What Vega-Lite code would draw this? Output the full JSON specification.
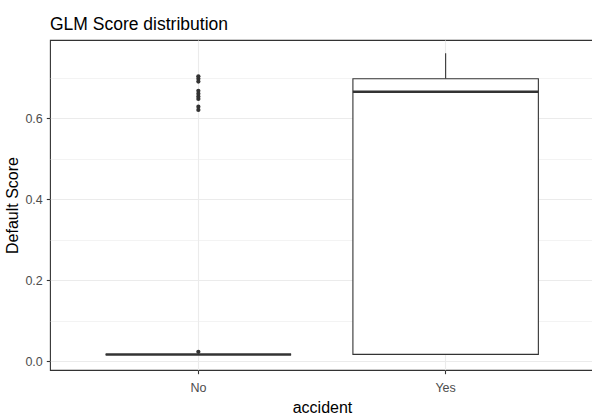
{
  "$schema": "https://vega.github.io/schema/vega-lite/v6.json",
  "autosize": {"type": "none"},
  "width": 544,
  "height": 330,
  "padding": {"left": 50, "top": 40, "right": 0, "bottom": 47},
  "background": "white",
  "title": {
    "text": "GLM Score distribution",
    "anchor": "start",
    "frame": "group",
    "font": "Liberation Sans",
    "fontSize": 17.5,
    "fontWeight": "normal",
    "color": "#000000",
    "offset": 7
  },
  "config": {
    "view": {"stroke": "#333333", "strokeWidth": 1.1},
    "axis": {
      "labelFont": "Liberation Sans",
      "titleFont": "Liberation Sans",
      "labelColor": "#4D4D4D",
      "titleColor": "#000000",
      "labelFontSize": 12.5,
      "titleFontSize": 16,
      "titleFontWeight": "normal",
      "tickColor": "#333333",
      "tickSize": 3.7,
      "tickWidth": 1.1,
      "domain": false,
      "gridColor": "#EBEBEB"
    }
  },
  "datasets": {
    "boxes": [
      {"accident": "No", "lower": 0.016, "q1": 0.016, "median": 0.016, "q3": 0.016, "upper": 0.016},
      {"accident": "Yes", "lower": 0.0165, "q1": 0.0165, "median": 0.665, "q3": 0.697, "upper": 0.760}
    ],
    "outliers": [
      {"accident": "No", "score": 0.0227},
      {"accident": "No", "score": 0.620},
      {"accident": "No", "score": 0.628},
      {"accident": "No", "score": 0.647},
      {"accident": "No", "score": 0.653},
      {"accident": "No", "score": 0.660},
      {"accident": "No", "score": 0.667},
      {"accident": "No", "score": 0.690},
      {"accident": "No", "score": 0.697},
      {"accident": "No", "score": 0.703}
    ]
  },
  "encoding": {
    "x": {
      "field": "accident",
      "type": "nominal",
      "sort": ["No", "Yes"],
      "scale": {"type": "band", "paddingInner": 0.25, "paddingOuter": 0.225},
      "axis": {
        "title": "accident",
        "labelAngle": 0,
        "grid": true,
        "gridWidth": 1.1,
        "bandPosition": 0.5,
        "labelPadding": 8,
        "titlePadding": 5
      }
    }
  },
  "layer": [
    {
      "data": {"name": "boxes"},
      "mark": {"type": "rule", "color": "#333333", "strokeWidth": 1.1},
      "encoding": {
        "y": {
          "field": "q3",
          "type": "quantitative",
          "scale": {"domain": [-0.0222, 0.7926], "nice": false, "zero": false},
          "axis": {
            "title": "Default Score",
            "values": [0, 0.1, 0.2, 0.3, 0.4, 0.5, 0.6, 0.7],
            "format": ".1f",
            "labelExpr": "round(datum.value*10) % 2 === 0 ? datum.label : ''",
            "tickOpacity": {"condition": {"test": "round(datum.value*10) % 2 === 0", "value": 1}, "value": 0},
            "gridWidth": {"condition": {"test": "round(datum.value*10) % 2 === 0", "value": 1.1}, "value": 0.6},
            "grid": true,
            "labelPadding": 4,
            "titlePadding": 4
          }
        },
        "y2": {"field": "upper"}
      }
    },
    {
      "data": {"name": "boxes"},
      "mark": {"type": "rule", "color": "#333333", "strokeWidth": 1.1},
      "encoding": {
        "y": {"field": "lower", "type": "quantitative"},
        "y2": {"field": "q1"}
      }
    },
    {
      "data": {"name": "boxes"},
      "mark": {"type": "bar", "fill": "white", "stroke": "#333333", "strokeWidth": 1.1},
      "encoding": {
        "y": {"field": "q1", "type": "quantitative"},
        "y2": {"field": "q3"}
      }
    },
    {
      "data": {"name": "boxes"},
      "mark": {"type": "tick", "color": "#333333", "thickness": 2.6, "opacity": 1},
      "encoding": {
        "y": {"field": "median", "type": "quantitative"}
      }
    },
    {
      "data": {"name": "outliers"},
      "mark": {"type": "circle", "color": "#333333", "opacity": 1, "size": 18},
      "encoding": {
        "y": {"field": "score", "type": "quantitative"}
      }
    }
  ]
}
